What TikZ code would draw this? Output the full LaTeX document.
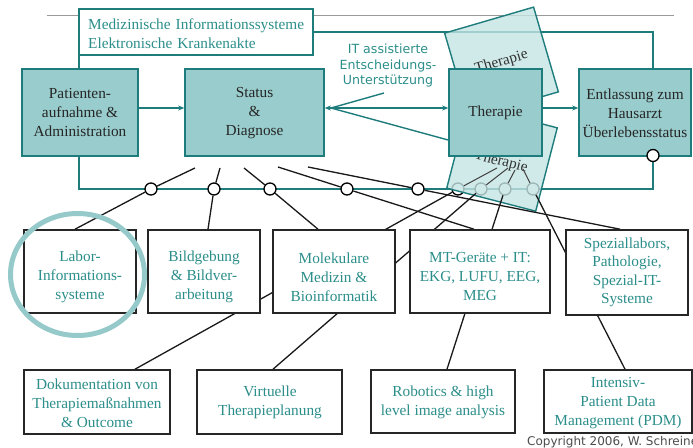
\documentclass[tikz,border=0pt]{standalone}
\usepackage{fontspec}
\setmainfont{Liberation Serif}
\newfontfamily\sansfnt{DejaVu Sans}
\usetikzlibrary{arrows.meta,shapes.geometric}
\definecolor{tline}{HTML}{1F7C7C}
\definecolor{tfill}{HTML}{99CCCC}
\definecolor{ttext}{HTML}{2B8E8A}
\definecolor{tlight}{HTML}{C4E3E3}
\definecolor{tring}{HTML}{96C9C9}
\pgfdeclarelayer{buslayer}
\pgfdeclarelayer{rectlayer}
\pgfdeclarelayer{connlayer}
\pgfsetlayers{buslayer,rectlayer,connlayer,main}
\begin{document}
\begin{tikzpicture}[x=1pt,y=-1pt,
  topbox/.style={draw=tline, line width=1.6pt, fill=tfill, inner sep=0pt},
  lowbox/.style={draw=black!85, line width=1.6pt, fill=white, inner sep=0pt},
  toptext/.style={align=center, inner sep=0pt, font=\fontsize{15.3}{19}\selectfont, text=black!85},
  lowtext/.style={align=center, inner sep=0pt, font=\fontsize{15.3}{19}\selectfont, text=ttext},
  busline/.style={draw=tline, line width=1.4pt},
  connline/.style={draw=black!90, line width=1.3pt},
  thinline/.style={draw=black!75, line width=1pt},
  junc/.style={circle, draw=black, fill=white, line width=1.3pt, minimum size=12pt, inner sep=0pt},
  tilt/.style={draw=tline, line width=1.4pt, fill=tlight, fill opacity=0.8, inner sep=0pt},
  tilttext/.style={inner sep=0pt, font=\fontsize{15.3}{19}\selectfont, text=black!80},
  tarrow/.style={draw=tline, line width=1.4pt, -{Stealth[length=6pt,width=5pt]}},
  itlabel/.style={align=center, inner sep=0pt, font=\sansfnt\fontsize{12.6}{15.5}\selectfont, text=ttext},
  copylabel/.style={inner sep=0pt, anchor=base west, font=\sansfnt\fontsize{12}{13}\selectfont, text=black!70},
  ringstyle/.style={ellipse, draw=tring, line width=5pt, inner sep=0pt}
]
\useasboundingbox (0,0) rectangle (693,447);

% ---------- top row ----------
\node[topbox, fill=white, minimum width=234pt, minimum height=46pt] (med) at (196,32) {};
\node[lowtext, text width=216pt, align=left, anchor=west] (medt) at (88,33.5) {Medizinische Informationssysteme\\Elektronische Krankenakte};

\node[topbox, minimum width=116pt, minimum height=87pt] (pat) at (80,112.5) {};
\node[toptext] (patt) at (80,113) {Patienten-\\aufnahme \&\\Administration};

\node[topbox, minimum width=139pt, minimum height=87pt] (stat) at (254.5,112.5) {};
\node[toptext] (statt) at (254.5,113) {Status\\\&\\Diagnose};

\node[topbox, minimum width=93pt, minimum height=87pt] (ther) at (495.5,112.5) {};
\node[toptext] (thert) at (495.5,113) {Therapie};

\node[topbox, minimum width=112pt, minimum height=87pt] (entl) at (635,112.5) {};
\node[toptext] (entlt) at (635,113) {Entlassung zum\\Hausarzt\\Überlebensstatus};
\node[junc] (ce) at (653,155.5) {};

% ---------- second row ----------
\node[lowbox, minimum width=112pt, minimum height=83pt] (labor) at (80,271.5) {};
\node[lowtext] (labort) at (80,277) {Labor-\\Informations-\\systeme};
\node[lowbox, minimum width=112pt, minimum height=83pt] (bild) at (204,271.5) {};
\node[lowtext] (bildt) at (204,277) {Bildgebung\\\& Bildver-\\arbeitung};
\node[lowbox, minimum width=122pt, minimum height=83pt] (mol) at (334,271.5) {};
\node[lowtext] (molt) at (334,277) {Molekulare\\Medizin \&\\Bioinformatik};
\node[lowbox, minimum width=140pt, minimum height=83pt] (mt) at (480,271.5) {};
\node[lowtext] (mtt) at (480,277) {MT-Geräte + IT:\\EKG, LUFU, EEG,\\MEG};
\node[lowbox, minimum width=122pt, minimum height=85pt] (spez) at (627,272.5) {};
\node[lowtext, font=\fontsize{15.3}{18.5}\selectfont] (spezt) at (627,272.5) {Speziallabors,\\Pathologie,\\Spezial-IT-\\Systeme};

% ---------- third row ----------
\node[lowbox, minimum width=146pt, minimum height=64pt] (dok) at (97,402) {};
\node[lowtext] (dokt) at (97,403) {Dokumentation von\\Therapiemaßnahmen\\\& Outcome};
\node[lowbox, minimum width=145pt, minimum height=64pt] (virt) at (269.5,402) {};
\node[lowtext] (virtt) at (270,402.5) {Virtuelle\\Therapieplanung};
\node[lowbox, minimum width=144pt, minimum height=63pt] (rob) at (443,401.5) {};
\node[lowtext] (robt) at (443,402.5) {Robotics \& high\\level image analysis};
\node[lowbox, minimum width=148pt, minimum height=63pt] (int) at (618,401.5) {};
\node[lowtext] (intt) at (618,403) {Intensiv-\\Patient Data\\Management (PDM)};

% ring around Labor
\node[ringstyle, minimum width=134pt, minimum height=122pt] (ring) at (77.5,274.5) {};

% labels
\node[itlabel] (itlab) at (388,66) {IT assistierte\\Entscheidungs-\\Unterstützung};
\node[copylabel] (copy) at (527,445) {Copyright 2006, W. Schreiner};

% ---------- bus layer ----------
\begin{pgfonlayer}{buslayer}
\coordinate (g1) at (47,15);
\coordinate (g2) at (674,15);
\draw[gray!80, line width=0.8pt] (g1) -- (g2);
\coordinate (busL) at (79,189);
\coordinate (busR) at (653,189);
\draw[busline] (med.south -| busL) -- (pat.north -| busL);
\draw[busline] (pat.south -| busL) -- (busL) -- (busR) -- (ce);
\draw[busline] (med.east) -- (med.east -| busR) -- (entl.north -| busR);
\node[junc] (c1) at (151,189) {};
\node[junc] (c2) at (214,189) {};
\node[junc] (c3) at (270,189) {};
\node[junc] (c4) at (347,189) {};
\node[junc] (c5) at (418,189) {};
\node[junc] (f1) at (458,189) {};
\node[junc] (f2) at (481,189) {};
\node[junc] (f3) at (505,189) {};
\node[junc] (f4) at (533,189) {};
\end{pgfonlayer}

% ---------- tilted Therapie sheets ----------
\begin{pgfonlayer}{rectlayer}
\node[tilt, rotate=16.3, minimum width=92.7pt, minimum height=88.3pt] (thtop) at (501.5,62.5) {};
\node[tilt, rotate=-14.5, minimum width=91.9pt, minimum height=86.1pt] (thbot) at (502,158) {};
\node[tilttext, rotate=16.3] (thtopt) at (501.5,62) {Therapie};
\node[tilttext, rotate=-14.5] (thbott) at (501,162) {Therapie};
\end{pgfonlayer}

% ---------- connectors ----------
\begin{pgfonlayer}{connlayer}
\coordinate (s1) at (195,168);
\coordinate (s2) at (220,168);
\coordinate (s3) at (244,168);
\coordinate (s4) at (278,167);
\coordinate (s5) at (308,167);
\draw[connline] (s1) -- (c1);
\draw[connline] (c1) -- ([xshift=-5pt]labor.north);
\draw[connline] (s2) -- (c2);
\draw[connline] (c2) -- ([xshift=4pt]bild.north);
\draw[connline] (s3) -- (c3);
\draw[connline] (c3) -- ([xshift=-16pt]mol.north);
\draw[connline] (s4) -- (c4);
\draw[connline] (c4) -- ([xshift=-6pt]mt.north);
\draw[connline] (s5) -- (c5);
\draw[connline] (c5) -- ([xshift=-7pt]spez.north);

\coordinate (t1) at (497,168);
\coordinate (t2) at (508,168);
\coordinate (t3) at (515,170);
\coordinate (t4) at (523,169);
\draw[thinline] (t1) -- (f1);
\draw[thinline] (t2) -- (f2);
\draw[thinline] (t3) -- (f3);
\draw[thinline] (t4) -- (f4);
\draw[connline] (f1) -- ([xshift=38pt]dok.north);
\draw[connline] (f2) -- ([xshift=3.5pt]virt.north);
\draw[connline] (f3) -- ([xshift=4pt]rob.north);
\draw[connline] (f4) -- ([xshift=7pt]int.north);

\draw[tarrow] ([yshift=4.5pt]pat.east) -- ([yshift=4.5pt]stat.west);
\draw[tarrow, {Stealth[length=6pt,width=5pt]}-{Stealth[length=6pt,width=5pt]}] ([yshift=4.5pt]stat.east) -- ([yshift=4.5pt]ther.west);
\draw[tarrow] ([yshift=4.5pt]ther.east) -- ([yshift=4.5pt]entl.west);
\coordinate (apex) at (331,108);
\coordinate (fanup) at (384,93);
\draw[busline] (fanup) -- (apex) -- ([yshift=-27.5pt]ther.west);
\end{pgfonlayer}
\end{tikzpicture}
\end{document}
